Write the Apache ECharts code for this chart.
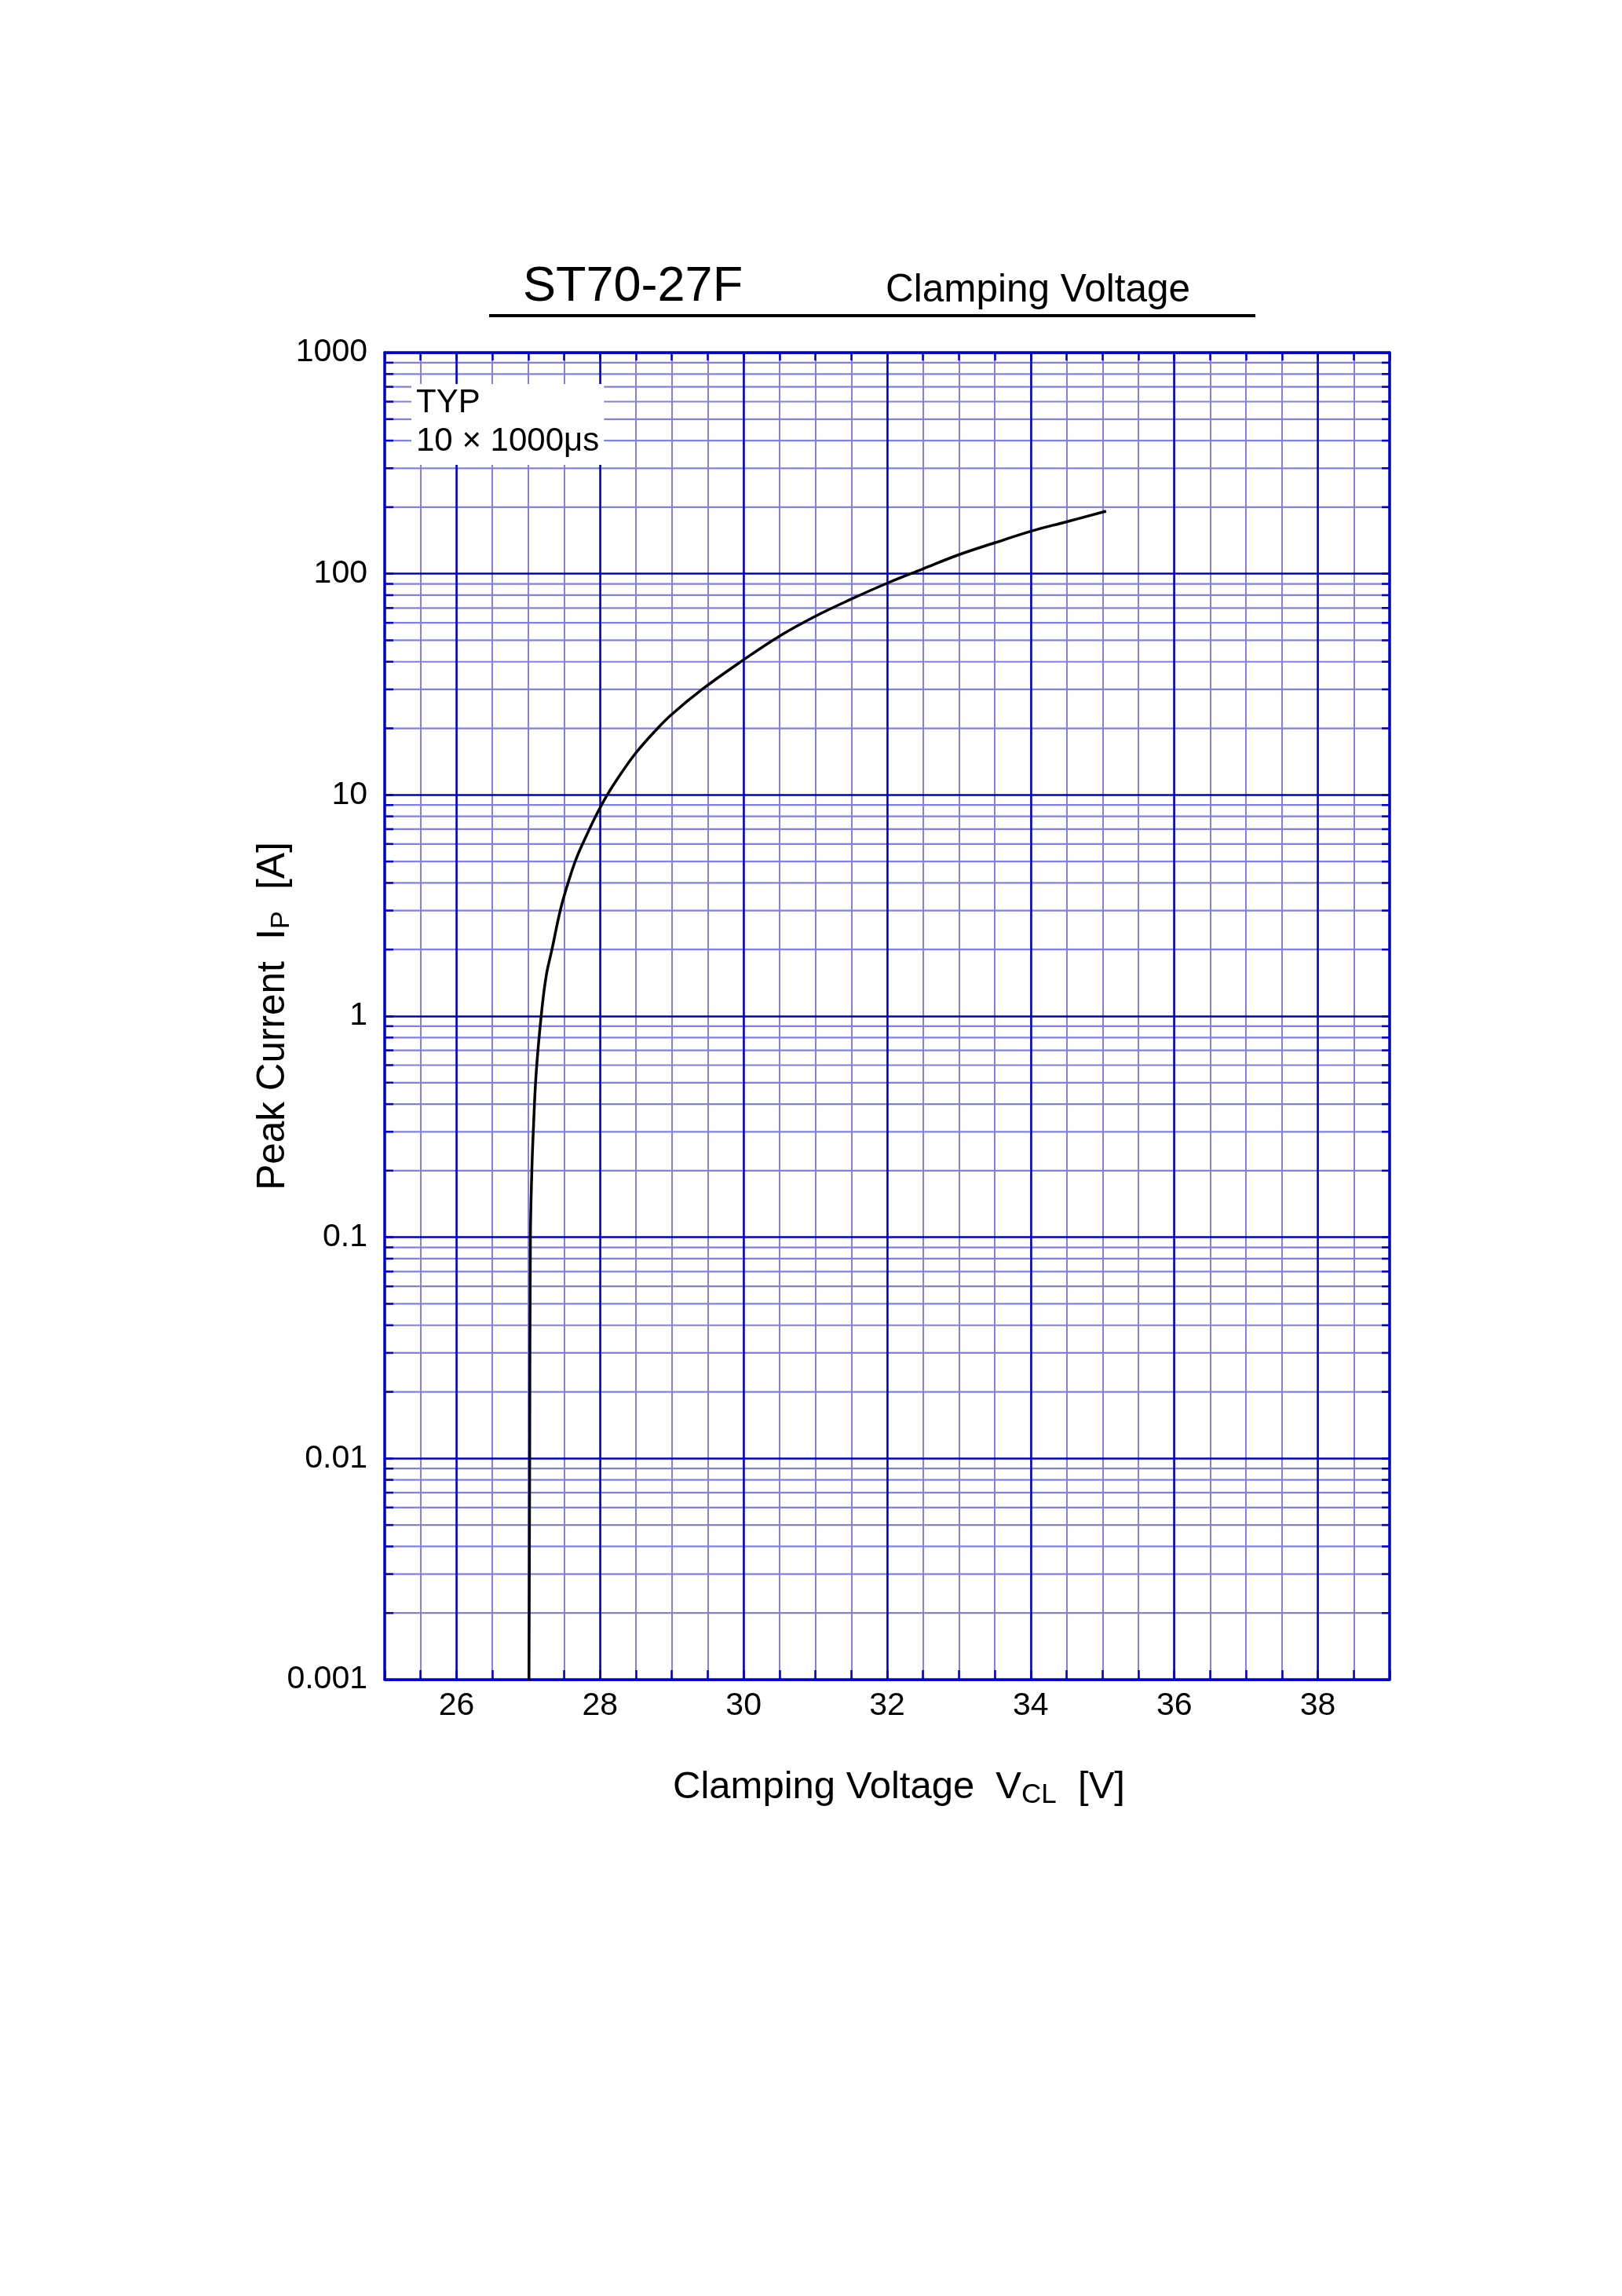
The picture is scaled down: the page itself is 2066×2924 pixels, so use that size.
<!DOCTYPE html>
<html>
<head>
<meta charset="utf-8">
<script src="https://cdn.jsdelivr.net/npm/echarts@6/dist/echarts.min.js"></script>
<style>
html,body{margin:0;padding:0;background:#ffffff;}
#chart{width:2066px;height:2924px;}
</style>
</head>
<body>
<div id="chart"></div>
<script>
// ---- data ----
const clampVoltage = [27.01, 27.02, 27.03, 27.05, 27.07, 27.11, 27.18, 27.25, 27.33, 27.45, 27.575, 27.68, 27.81, 27.95, 28.10, 28.30, 28.50, 28.77, 28.99, 29.44, 29.99, 30.49, 30.99, 31.50, 32.00, 32.49, 32.99, 33.50, 34.00, 34.50, 35.05];
const peakCurrent  = [0.001, 0.01, 0.1, 0.2, 0.3, 0.55, 1.0, 1.52, 2.0, 3.04, 4.2, 5.26, 6.54, 8.14, 10.0, 12.6, 15.5, 19.5, 23.0, 30.3, 40.6, 52.0, 64.0, 76.8, 90.6, 104.9, 121.6, 138, 155.6, 171.8, 191.7];

// ---- axis ticks ----
const xMin = 25, xMax = 39, xStep = 0.5;
const xTickLabels = [26, 28, 30, 32, 34, 36, 38];
const yMin = 0.001, yMax = 1000;
const yTickLabels = ['0.001', '0.01', '0.1', '1', '10', '100', '1000'];
const yDecades = [0.001, 0.01, 0.1, 1, 10, 100];
const yMinorMultipliers = [2, 3, 4, 5, 6, 7, 8, 9];

const yMinorTicks = [];
yDecades.forEach(function (d) {
  yMinorMultipliers.forEach(function (m) { yMinorTicks.push(+(d * m).toPrecision(6)); });
});

const DARK = '#0000CC';
const LIGHT = '#8080E6';
const FONT = '"Liberation Sans", Arial, Helvetica, sans-serif';

const curve = clampVoltage.map(function (v, i) { return [v, peakCurrent[i]]; });

const chart = echarts.init(document.getElementById('chart'), null, { renderer: 'canvas' });

const option = {
  animation: false,
  backgroundColor: '#ffffff',
  textStyle: { fontFamily: FONT },
  title: [
    {
      text: 'ST70-27F', left: 666, top: 326, padding: 0,
      textStyle: { fontFamily: FONT, fontSize: 63, fontWeight: 'normal', color: '#000', lineHeight: 80 }
    },
    {
      text: 'Clamping Voltage', left: 1128, top: 340, padding: 0,
      textStyle: { fontFamily: FONT, fontSize: 49.5, fontWeight: 'normal', color: '#000', lineHeight: 60 }
    },
    {
      text: 'TYP\n10 \u00d7 1000\u03bcs', left: 524, top: 489, padding: [0, 6, 5, 6],
      backgroundColor: '#ffffff',
      textStyle: { fontFamily: FONT, fontSize: 42, fontWeight: 'normal', color: '#000', lineHeight: 49 }
    }
  ],
  graphic: [
    { type: 'line', shape: { x1: 623, y1: 402, x2: 1599, y2: 402 }, style: { stroke: '#000', lineWidth: 4 } }
  ],
  grid: { left: 490, top: 449, width: 1280, height: 1690, containLabel: false, outerBoundsMode: 'none' },
  xAxis: [
    {
      type: 'value', position: 'bottom', min: xMin, max: xMax, interval: xStep, z: 0,
      axisLine: { show: false, onZero: false },
      axisTick: { show: false },
      axisLabel: {
        show: true, margin: 13, fontSize: 41, lineHeight: 41, color: '#000', fontFamily: FONT,
        formatter: function (v) { return xTickLabels.indexOf(Math.round(v * 100) / 100) >= 0 ? String(Math.round(v)) : ''; }
      },
      splitLine: { show: true, lineStyle: { color: LIGHT, width: 2 } },
      name: '{m|Clamping Voltage  V}{s|CL}{m|  [V]}',
      nameLocation: 'middle', nameGap: 109, nameMoveOverlap: false,
      nameTextStyle: {
        padding: [0, 0, 0, 30],
        rich: {
          m: { fontFamily: FONT, fontSize: 49, lineHeight: 56, color: '#000' },
          s: { fontFamily: FONT, fontSize: 35, lineHeight: 34, color: '#000', verticalAlign: 'bottom' }
        }
      }
    },
    {
      type: 'value', position: 'bottom', min: xMin, max: xMax, interval: xStep, z: 3,
      axisLine: { show: true, onZero: false, lineStyle: { color: DARK, width: 3.5 } },
      axisTick: { show: true, inside: true, length: 12, lineStyle: { color: DARK, width: 2.5 } },
      axisLabel: { show: false },
      splitLine: { show: true, lineStyle: { color: ['rgba(0,0,0,0)', 'rgba(0,0,0,0)', DARK, 'rgba(0,0,0,0)'], width: 2.5 } }
    },
    {
      type: 'value', position: 'top', min: xMin, max: xMax, interval: xStep, z: 3,
      axisLine: { show: true, onZero: false, lineStyle: { color: DARK, width: 3.5 } },
      axisTick: { show: true, inside: true, length: 10, lineStyle: { color: DARK, width: 2.5 } },
      axisLabel: { show: false },
      splitLine: { show: false }
    }
  ],
  yAxis: [
    {
      type: 'log', logBase: 10, position: 'left', min: yMin, max: yMax, z: 2,
      axisLine: { show: true, onZero: false, lineStyle: { color: DARK, width: 3.5 } },
      axisTick: { show: true, inside: true, length: 11, lineStyle: { color: DARK, width: 2.5 } },
      axisLabel: {
        show: true, margin: 22, fontSize: 41, color: '#000', fontFamily: FONT,
        formatter: function (v) { const e = Math.round(Math.log10(v)); return yTickLabels[e + 3] || ''; }
      },
      splitLine: { show: true, lineStyle: { color: DARK, width: 2.5 } },
      minorTick: { show: false }, minorSplitLine: { show: false },
      name: '{m|Peak Current  I}{s|P}{m|  [A]}',
      nameLocation: 'middle', nameGap: 114, nameRotate: 90, nameMoveOverlap: false,
      nameTextStyle: {
        rich: {
          m: { fontFamily: FONT, fontSize: 49.5, lineHeight: 56, color: '#000' },
          s: { fontFamily: FONT, fontSize: 34, lineHeight: 34, color: '#000', verticalAlign: 'bottom' }
        }
      }
    },
    {
      type: 'log', logBase: 10, position: 'right', min: yMin, max: yMax, z: 2,
      axisLine: { show: true, onZero: false, lineStyle: { color: DARK, width: 3.5 } },
      axisTick: { show: true, inside: true, length: 10, lineStyle: { color: DARK, width: 2.5 } },
      axisLabel: { show: false },
      splitLine: { show: false }
    }
  ],
  series: [
    {
      type: 'custom', name: 'minorGrid', xAxisIndex: 0, yAxisIndex: 0, z: 1, silent: true,
      clip: false,
      data: yMinorTicks.map(function (v) { return [xMin, v]; }),
      encode: { x: 0, y: 1 },
      renderItem: function (params, api) {
        const cs = params.coordSys;
        const y = api.coord([api.value(0), api.value(1)])[1];
        return {
          type: 'group',
          children: [
            { type: 'line', shape: { x1: cs.x, y1: y, x2: cs.x + cs.width, y2: y }, style: { stroke: LIGHT, lineWidth: 2.2 } },
            { type: 'line', shape: { x1: cs.x, y1: y, x2: cs.x + 11, y2: y }, style: { stroke: DARK, lineWidth: 2.5 } },
            { type: 'line', shape: { x1: cs.x + cs.width - 10, y1: y, x2: cs.x + cs.width, y2: y }, style: { stroke: DARK, lineWidth: 2.5 } }
          ]
        };
      }
    },
    {
      type: 'line', name: 'ST70-27F', xAxisIndex: 0, yAxisIndex: 0, z: 5,
      data: curve,
      showSymbol: false, symbol: 'none',
      smooth: 0.4,
      lineStyle: { color: '#000', width: 3.5 }
    }
  ]
};

chart.setOption(option);
</script>
</body>
</html>
